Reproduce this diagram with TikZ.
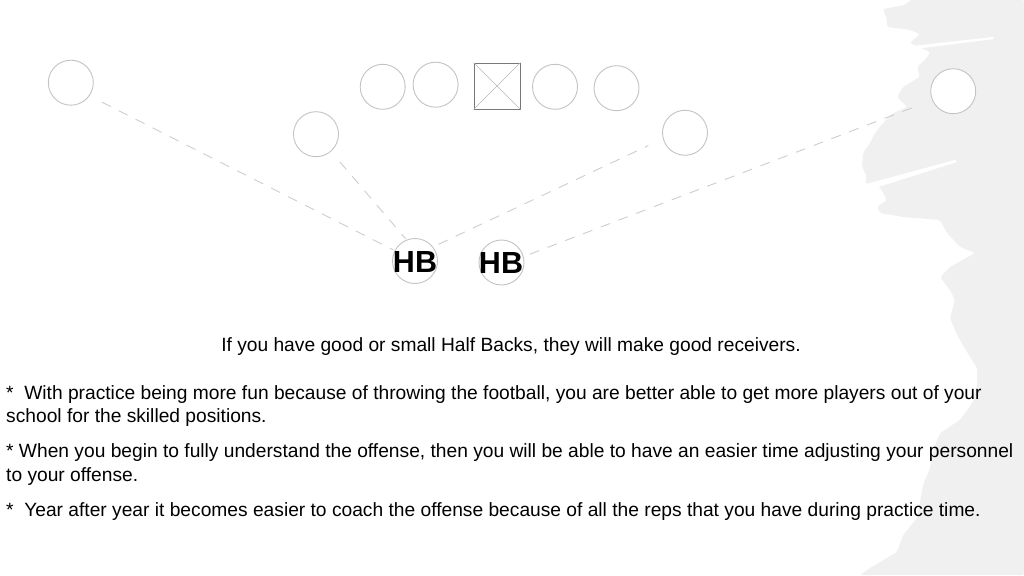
\documentclass[tikz,border=0pt]{standalone}
\usepackage{fontspec}
\setmainfont{Liberation Sans}
\definecolor{brush}{RGB}{240,240,240}
\definecolor{circ}{RGB}{195,195,195}
\definecolor{dashc}{RGB}{205,205,205}
\definecolor{boxc}{RGB}{120,120,120}
\definecolor{xc}{RGB}{185,185,185}
\begin{document}
\begin{tikzpicture}[x=1pt,y=-1pt,
  player/.style={circle,draw=circ,fill=white,line width=0.9pt,minimum size=45pt,inner sep=0pt},
  route/.style={draw=dashc,line width=0.9pt,dash pattern=on 10pt off 9pt},
  body/.style={anchor=base west,inner sep=0pt,font=\fontsize{19.2}{23}\selectfont},
  hb/.style={font=\fontsize{30.5}{30}\selectfont\bfseries,inner sep=0pt}]
\useasboundingbox (0,0) rectangle (1024,575);
% brush stroke background
\fill[brush,rounded corners=2pt] (910,0) -- (905,5) -- (883,9) -- (887,20) -- (887,27) -- (910,30) -- (920,34) -- (910,43) -- (930,52) -- (927,58) -- (917,67) -- (920,77) -- (903,87) -- (897,97) -- (907,107) -- (893,113) -- (883,123) -- (875,133) -- (870,143) -- (863,153) -- (862,167) -- (867,177) -- (865,183) -- (880,187) -- (887,200) -- (877,207) -- (880,213) -- (903,217) -- (940,220) -- (947,233) -- (960,247) -- (975,253) -- (950,267) -- (940,277) -- (950,290) -- (955,300) -- (950,318) -- (957,335) -- (967,352) -- (977,368) -- (977,385) -- (973,402) -- (960,420) -- (940,433) -- (937,440) -- (933,452) -- (930,468) -- (923,485) -- (920,502) -- (917,518) -- (903,535) -- (897,552) -- (870,568) -- (860,575) -- (1024,575) -- (1024,0) -- cycle;
\fill[white] (866,184) -- (955,160) -- (957,162) -- (872,189) -- cycle;
\fill[white] (912,46) -- (993,37) -- (994,39) -- (915,49) -- cycle;
% players
\node[player] (c1) at (70.8,82.7) {};
\node[player] (c2) at (382.7,86.8) {};
\node[player] (c3) at (435.6,84.7) {};
\node[draw=boxc,fill=white,minimum size=46pt,inner sep=0pt,line width=0.9pt] (ctr) at (497,86) {};
\draw[xc,line width=0.6pt] (ctr.north west) -- (ctr.south east) (ctr.north east) -- (ctr.south west);
\node[player] (c4) at (555,86.8) {};
\node[player] (c5) at (616.5,88.2) {};
\node[player] (ls) at (316,134.2) {};
\node[player] (rs) at (685,132.8) {};
\node[player] (fr) at (953.2,91.2) {};
\node[player] (hb1) at (415,261) {};
\node[player] (hb2) at (501.5,262.5) {};
\node[hb] (hb1t) at (415,261.7) {HB};
\node[hb] (hb2t) at (501,263) {HB};
% routes
\draw[route,shorten <=13.6pt,shorten >=1.5pt] (c1.-35) -- (hb1.153);
\draw[route,shorten <=13.6pt,shorten >=1pt] (ls.-49) -- (hb1.112);
\draw[route,shorten <=6pt,shorten >=16pt] (hb1.38) -- (rs.195);
\draw[route,shorten <=6.5pt,shorten >=15pt] (hb2.15) -- (fr.203);
% texts
\node[anchor=base,inner sep=0pt,font=\fontsize{19.2}{23}\selectfont] (cap) at (511,351) {If you have good or small Half Backs, they will make good receivers.};
\node[body] (p1a) at (6,399.3) {*\ \ With practice being more fun because of throwing the football, you are better able to get more players out of your};
\node[body] (p1b) at (6,422.7) {school for the skilled positions.};
\node[body] (p2a) at (6,457.7) {* When you begin to fully understand the offense, then you will be able to have an easier time adjusting your personnel};
\node[body] (p2b) at (6,481) {to your offense.};
\node[body] (p3) at (6,516.7) {*\ \ Year after year it becomes easier to coach the offense because of all the reps that you have during practice time.};
\end{tikzpicture}
\end{document}
